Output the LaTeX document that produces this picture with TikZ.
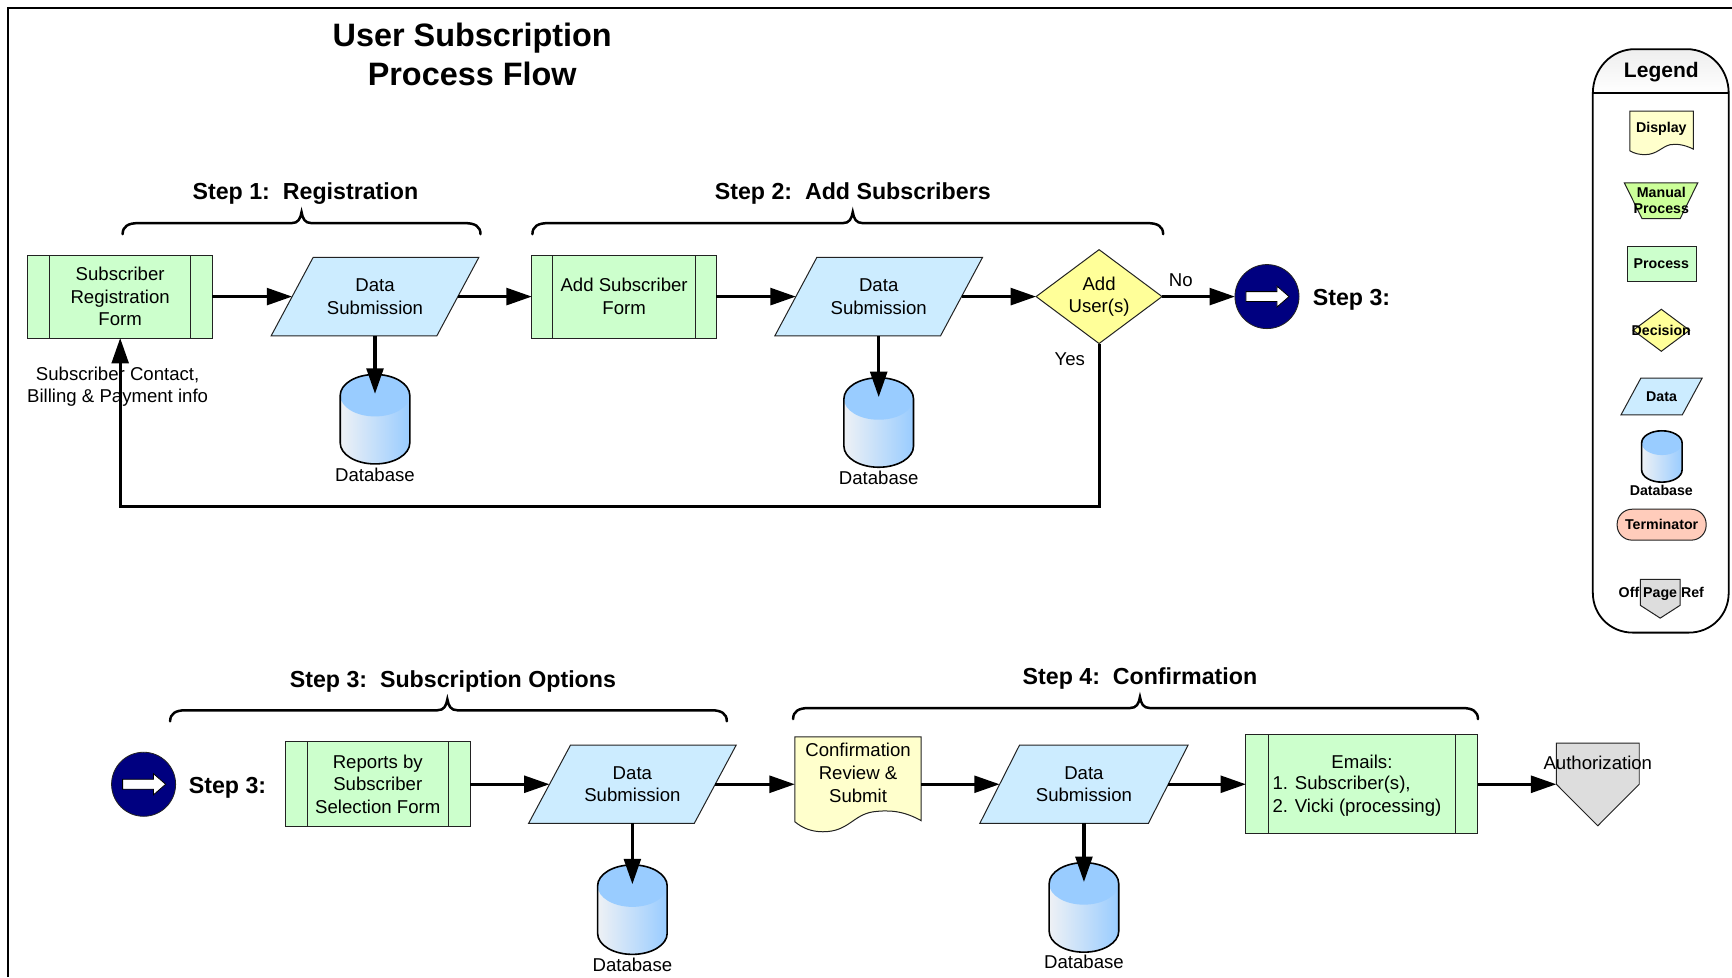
\documentclass[tikz,border=0pt]{standalone}
\usepackage{fontspec}
\setmainfont{Liberation Sans}
\usetikzlibrary{arrows.meta,shapes.geometric,calc}
\def\u{0.5523pt}
\definecolor{pgreen}{HTML}{CCFFCC}
\definecolor{pblue}{HTML}{CCECFF}
\definecolor{pyellow}{HTML}{FFFF99}
\definecolor{pdoc}{HTML}{FFFFCC}
\definecolor{pmanual}{HTML}{CCFF99}
\definecolor{pgray}{HTML}{DDDDDD}
\definecolor{pterm}{HTML}{FFCCBB}
\definecolor{dbblue}{HTML}{99CCFF}
\definecolor{dbpale}{HTML}{EEF1F5}
\definecolor{pnavy}{HTML}{000080}
\definecolor{pedge}{HTML}{222222}
\newcommand{\bodyfont}{\fontsize{9.3}{11.35}\selectfont}
\newcommand{\stepfont}{\fontsize{11.6}{14}\selectfont\bfseries}
\newcommand{\legfont}{\fontsize{7.1}{7.8}\selectfont\bfseries}
\tikzset{
  base/.style={inner sep=0pt,outer sep=0pt,align=center,font=\bodyfont,text=black},
  outline/.style={draw=pedge,line width=0.5pt},
  wh/.style 2 args={minimum width=#1*\u,minimum height=#2*\u},
  procbox/.style={base,outline,rectangle,fill=pgreen},
  predefbox/.style={procbox,path picture={
      \draw[pedge,line width=0.5pt] ([xshift=#1*\u]path picture bounding box.north west) -- ([xshift=#1*\u]path picture bounding box.south west);
      \draw[pedge,line width=0.5pt] ([xshift=-#1*\u]path picture bounding box.north east) -- ([xshift=-#1*\u]path picture bounding box.south east);}},
  anchorbox/.style={base,rectangle},
  decbox/.style={base,outline,diamond,fill=pyellow},
  offcircle/.style={base,circle,draw=pedge,line width=0.4pt,fill=pnavy,minimum size=58*\u},
  textlabel/.style={base},
  steplabel/.style={base,font=\stepfont,yshift=-1.1pt},
  titlelabel/.style={base,font=\fontsize{16.2}{19.3}\selectfont\bfseries},
  leglabel/.style={base,font=\legfont},
  arr/.style={line width=1.55pt,black,-{Triangle[length=12.7pt,width=8.4pt]}},
  bracel/.style={line width=1.25pt,black,line cap=round},
  framel/.style={line width=1pt,black},
  offarrowl/.style={draw=black,line width=0.4pt,fill=white}
}
% name, cx, half width, top, bottom, ry
\newcommand{\dbcyl}[6]{%
  \pgfmathsetmacro\dbL{#2-#3}\pgfmathsetmacro\dbR{#2+#3}%
  \pgfmathsetmacro\dbT{#4+#6}\pgfmathsetmacro\dbB{#5-#6}%
  \pgfmathsetmacro\dbK{0.5523*#6}\pgfmathsetmacro\dbW{0.5523*#3}%
  \def\dbcap{(\dbL,\dbT) .. controls (\dbL,\dbT-\dbK) and (#2-\dbW,#4) .. (#2,#4) .. controls (#2+\dbW,#4) and (\dbR,\dbT-\dbK) .. (\dbR,\dbT)}%
  \def\dbout{\dbcap -- (\dbR,\dbB) .. controls (\dbR,\dbB+\dbK) and (#2+\dbW,#5) .. (#2,#5) .. controls (#2-\dbW,#5) and (\dbL,\dbB+\dbK) .. (\dbL,\dbB) -- cycle}%
  \shade[left color=dbblue!0!dbpale,right color=dbblue] \dbout;
  \fill[dbblue] \dbcap .. controls (\dbR,\dbT+\dbK) and (#2+\dbW,\dbT+#6) .. (#2,\dbT+#6) .. controls (#2-\dbW,\dbT+#6) and (\dbL,\dbT+\dbK) .. (\dbL,\dbT) -- cycle;
  \draw[line width=0.8pt,black] \dbout;
  \coordinate (#1) at (#2,#4+17.5);
}
% x1, x2, centre, y
\newcommand{\bracket}[4]{%
  \draw[bracel] (#1,#4+10) .. controls (#1,#4+3) and (#1+5,#4) .. (#1+14,#4) -- (#3-9,#4)
     .. controls (#3-3,#4) and (#3-1,#4-4) .. (#3,#4-10)
     .. controls (#3+1,#4-4) and (#3+3,#4) .. (#3+9,#4) -- (#2-14,#4)
     .. controls (#2-5,#4) and (#2,#4+3) .. (#2,#4+10);
}
\newcommand{\whitearrow}[1]{%
  \draw[offarrowl] ($(#1)+(-19,-4.5)$) -- ++(28,0) -- ++(0,-5) -- ++(11,9.5) -- ++(-11,9.5) -- ++(0,-5) -- ++(-28,0) -- cycle;
}
% parallelogram with a named box whose west and east anchors lie on the slanted sides
% [font] name, cx, cy, full width, height, slant, text
\newcommand{\datashape}[7][\bodyfont]{%
  \draw[outline,fill=pblue] (#3-#5/2,#4+#6/2) -- (#3-#5/2+#7,#4-#6/2) -- (#3+#5/2,#4-#6/2) -- (#3+#5/2-#7,#4+#6/2) -- cycle;
}
\newcommand{\dataat}[8][\bodyfont]{%
  \draw[outline,fill=pblue] (#3-#5/2,#4+#6/2) -- (#3-#5/2+#7,#4-#6/2) -- (#3+#5/2,#4-#6/2) -- (#3+#5/2-#7,#4+#6/2) -- cycle;
  \node[anchorbox,font=#1,minimum width=(#5-#7)*\u,minimum height=#6*\u] (#2) at (#3,#4) {#8};
}
\begin{document}
\begin{tikzpicture}[x=\u,y=-\u]
\useasboundingbox (0,0) rectangle (1568,884.5);
\fill[white] (0,0) rectangle (1568,884.5);
\draw[framel] (7,884.5) -- (7,7) -- (1568,7);

\node[titlelabel] (title) at (427.5,49) {User Subscription\\Process Flow};

% ---- Row 1
\node[steplabel] (s1) at (276.5,173) {Step 1:\ \ Registration};
\bracket{111}{435}{273}{202}
\node[steplabel] (s2) at (772,173) {Step 2:\ \ Add Subscribers};
\bracket{482}{1053}{772}{202}

\node[predefbox=19.5,wh={167}{75}] (form1) at (108.8,268.5) {Subscriber\\Registration\\Form};
\dataat{d1}{339.5}{268.5}{188}{71}{38}{Data\\Submission}
\dbcyl{db1}{339.5}{31.5}{339}{420}{19}
\node[textlabel] (db1t) at (339.5,429.5) {Database};
\node[textlabel] (info) at (106.5,350) {Subscriber Contact,\\Billing \& Payment info};

\node[predefbox=19,wh={167}{75}] (form2) at (565,268.5) {Add Subscriber\\Form};
\dataat{d2}{795.5}{268.5}{188}{71}{38}{Data\\Submission}
\dbcyl{db2}{795.5}{31.5}{342}{423}{19}
\node[textlabel] (db2t) at (795.5,432.5) {Database};

\node[decbox,shape aspect=1.34,wh={114}{85}] (dec) at (995,268.5) {Add\\User(s)};
\node[textlabel] (no) at (1069,254) {No};
\node[textlabel] (yes) at (968.5,325) {Yes};
\node[offcircle] (off1) at (1147,268.5) {};
\whitearrow{off1}
\node[steplabel] (off1t) at (1223.5,269) {Step 3:};

\coordinate (loop) at (108.8,458.5);
\draw[arr] (form1.east) -- (d1.west);
\draw[arr] (d1.east) -- (form2.west);
\draw[arr] (d1.south) -- (db1);
\draw[arr] (form2.east) -- (d2.west);
\draw[arr] (d2.south) -- (db2);
\draw[arr] (d2.east) -- (dec.west);
\draw[arr] (dec.east) -- (off1.west);
\draw[arr] (dec.south) |- (loop) -- (form1.south);

% ---- Row 2
\node[steplabel] (s3) at (410,615) {Step 3:\ \ Subscription Options};
\bracket{154}{658}{405}{643}
\node[steplabel] (s4) at (1032,612) {Step 4:\ \ Confirmation};
\bracket{718}{1338}{1032}{641}

\node[offcircle] (off2) at (130,710) {};
\whitearrow{off2}
\node[steplabel] (off2t) at (206,711) {Step 3:};
\node[predefbox=19.5,wh={167}{77}] (form3) at (342,710) {Reports by\\Subscriber\\Selection Form};
\dataat{d3}{572.5}{710}{188}{71}{38}{Data\\Submission}
\dbcyl{db3}{572.5}{31.5}{783}{864}{19}
\node[textlabel] (db3t) at (572.5,873.5) {Database};

\draw[outline,fill=pdoc] (719.6,667) -- (834,667) -- (834,743) .. controls (818,734) and (805,733) .. (790,735) .. controls (772,738) and (768,753) .. (745,753) .. controls (735,753) and (727,750) .. (719.6,744) -- cycle;
\node[anchorbox,wh={114.4}{86}] (conf) at (776.8,710) {};
\node[textlabel] (conft) at (776.8,699.5) {Confirmation\\Review \&\\Submit};

\dataat{d4}{981.3}{710}{188.6}{71}{36}{Data\\Submission}
\dbcyl{db4}{981.3}{31.5}{781}{862}{19}
\node[textlabel] (db4t) at (981.3,871) {Database};

\node[predefbox=20,wh={210}{90}] (emails) at (1233,710) {};
\node[textlabel] (emailst) at (1233,690) {Emails:};
\node[textlabel,anchor=west,align=left,font=\fontsize{9.3}{11.6}\selectfont] (emailsl) at (1152,720.5) {1. Subscriber(s),\\2. Vicki (processing)};

\draw[outline,fill=pgray,line width=0.45pt] (1409,672.8) -- (1484,672.8) -- (1484,710) -- (1446.5,747.6) -- (1409,710) -- cycle;
\node[anchorbox,wh={75}{75}] (auth) at (1446.5,710) {};
\node[textlabel] (autht) at (1446.5,690.5) {Authorization};

\draw[arr] (form3.east) -- (d3.west);
\draw[arr] (d3.south) -- (db3);
\draw[arr] (d3.east) -- (conf.west);
\draw[arr] (conf.east) -- (d4.west);
\draw[arr] (d4.south) -- (db4);
\draw[arr] (d4.east) -- (emails.west);
\draw[arr] (emails.east) -- (auth.west);

% ---- Legend
\shade[top color=pgray!50,bottom color=white] (1442,84.5) .. controls (1442,62) and (1459,44.5) .. (1480,44.5) -- (1527,44.5) .. controls (1548,44.5) and (1565,62) .. (1565,84.5) -- cycle;
\draw[line width=0.9pt,black] (1442,84.5) .. controls (1442,62) and (1459,44.5) .. (1480,44.5) -- (1527,44.5) .. controls (1548,44.5) and (1565,62) .. (1565,84.5) -- (1565,536.7) .. controls (1565,557) and (1549,572.7) .. (1529,572.7) -- (1478,572.7) .. controls (1458,572.7) and (1442,557) .. (1442,536.7) -- cycle;
\draw[line width=1pt,black] (1442,84.5) -- (1565,84.5);
\node[base,font=\fontsize{10.5}{12}\selectfont\bfseries] (legt) at (1504,65.5) {Legend};

\draw[outline,fill=pdoc] (1475.6,100.5) -- (1533,100.5) -- (1533,135) .. controls (1525,131) and (1518,130) .. (1512,131) .. controls (1504,133) and (1500,140) .. (1489,140) .. controls (1484,140) and (1480,139) .. (1475.6,136.6) -- cycle;
\node[leglabel] (lgdisp) at (1504,116.5) {Display};

\draw[outline,fill=pmanual] (1470.5,165.6) -- (1537,165.6) -- (1521,198) -- (1486.6,198) -- cycle;
\node[leglabel] (lgman) at (1504,181.5) {Manual\\Process};

\node[procbox,wh={62.6}{31.4}] (lgproc) at (1504.3,239.3) {};
\node[leglabel] (lgproct) at (1504,238.5) {Process};

\node[decbox,shape aspect=1.34,wh={51}{38}] (lgdec) at (1504,299) {};
\node[leglabel] (lgdect) at (1504,299) {Decision};

\dataat[\legfont]{lgdata}{1504.2}{359}{73.5}{33.3}{18}{Data}

\dbcyl{lgdb}{1504.5}{18.3}{390}{436.5}{11}
\node[leglabel] (lgdbt) at (1504,444.2) {Database};

\node[base,outline,rectangle,rounded corners=13.5*\u,fill=pterm,font=\legfont,wh={80.6}{28}] (lgterm) at (1504.3,475) {Terminator};

\draw[outline,fill=pgray] (1485,524.5) -- (1521,524.5) -- (1521,548) -- (1503,559.6) -- (1485,548) -- cycle;
\node[leglabel] (lgoff) at (1504,537.5) {Off Page Ref};
\end{tikzpicture}
\end{document}
